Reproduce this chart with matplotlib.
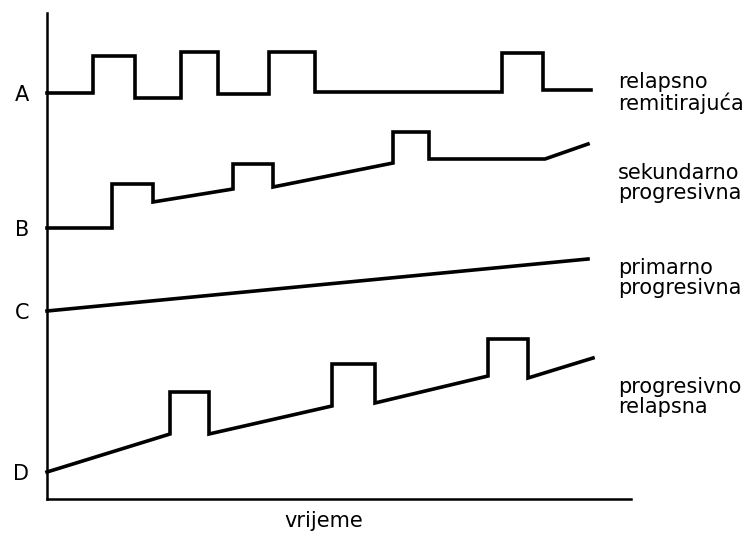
"""
Course types of multiple sclerosis: schematic disability over time.
"""
import matplotlib
matplotlib.use('Agg')
import matplotlib.pyplot as plt

# x = time, y = level (arbitrary units)
a_x = [0, 46, 46, 88, 88, 134, 134, 171, 171, 222, 222, 268, 268, 455, 455, 496, 496, 544]
a_y = [406, 406, 443, 443, 401, 401, 447, 447, 405, 405, 447, 447, 407, 407, 446, 446, 409, 409]

b_x = [0, 65, 65, 106, 106, 186, 186, 226, 226, 346, 346, 382, 382, 498, 541]
b_y = [271, 271, 315, 315, 297, 310, 335, 335, 312, 336, 367, 367, 340, 340, 355]

c_x = [0, 541]
c_y = [188, 240]

d_x = [0, 123, 123, 162, 162, 285, 285, 328, 328, 441, 441, 481, 481, 546]
d_y = [27, 65, 107, 107, 65, 93, 135, 135, 96, 123, 160, 160, 121, 141]

letters = ['A', 'B', 'C', 'D']
letter_y = [406, 271, 188, 27]

names = ['relapsno\nremitirajuća', 'sekundarno\nprogresivna',
         'primarno\nprogresivna', 'progresivno\nrelapsna']
name_y = [406, 316, 221, 102]
name_x = 571

x_title = 'vrijeme'


def main():
    plt.rcParams['font.family'] = ['DejaVu Sans']
    fig = plt.figure(figsize=(7.56, 5.33), dpi=100)
    ax = fig.add_axes([47 / 756, 34 / 533, 584 / 756, 486 / 533])

    for xs, ys in [(a_x, a_y), (b_x, b_y), (c_x, c_y), (d_x, d_y)]:
        ax.plot(xs, ys, color='black', linewidth=2.6,
                solid_joinstyle='miter', clip_on=False)

    ax.set_xlim(0, 584)
    ax.set_ylim(0, 486)

    ax.spines['top'].set_visible(False)
    ax.spines['right'].set_visible(False)
    ax.spines['left'].set_linewidth(1.8)
    ax.spines['bottom'].set_linewidth(1.8)

    ax.set_xticks([])
    ax.set_yticks(letter_y)
    ax.set_yticklabels(letters, fontsize=15)
    ax.tick_params(axis='y', length=0, pad=13)

    for y, name in zip(name_y, names):
        ax.text(name_x, y, name, fontsize=15, ha='left', va='center',
                linespacing=1.05, clip_on=False)

    ax.text(277, -22, x_title, fontsize=15, ha='center', va='center')

    fig.savefig('out.png', dpi=100)


if __name__ == "__main__":
    main()
